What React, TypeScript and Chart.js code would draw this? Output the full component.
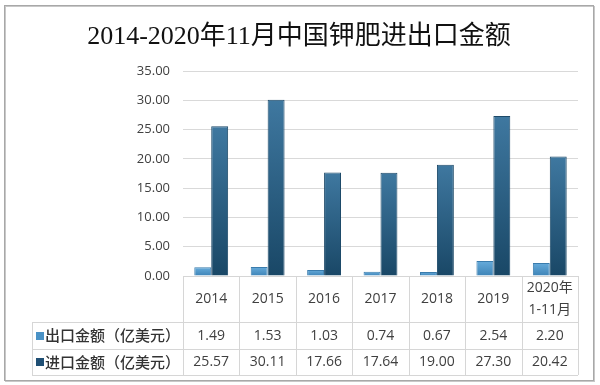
import React, { useEffect, useRef } from 'react';
import { Chart, registerables } from 'chart.js';

Chart.register(...registerables);

const TITLE = '2014-2020年11月中国钾肥进出口金额';
const CATEGORIES: string[][] = [['2014'], ['2015'], ['2016'], ['2017'], ['2018'], ['2019'], ['2020年', '1-11月']];
const SERIES_NAMES = ['出口金额（亿美元）', '进口金额（亿美元）'];
const EXPORT_VALUES = [1.49, 1.53, 1.03, 0.74, 0.67, 2.54, 2.2];
const IMPORT_VALUES = [25.57, 30.11, 17.66, 17.64, 19.0, 27.3, 20.42];
const Y_MIN = 0;
const Y_MAX = 35;
const Y_STEP = 5;

const NUM_FONT = "'Open Sans', 'Liberation Sans'";
const CJK_FONT = "'Noto Sans CJK SC', 'Open Sans', sans-serif";
const TEXT_COLOR = '#404040';
const LINE_COLOR = '#d6d6d6';

const EXPORT_TOP = '#66abdb';
const EXPORT_BOTTOM = '#3d83b6';
const IMPORT_TOP = '#3f78a0';
const IMPORT_BOTTOM = '#194766';

function barGradient(top: string, bottom: string, fallback: string) {
  return (c: any) => {
    const chart = c.chart;
    const a = chart.chartArea;
    if (!a || c.raw == null) return fallback;
    const yTop = chart.scales.y.getPixelForValue(c.raw);
    const g = chart.ctx.createLinearGradient(0, Math.min(yTop, a.bottom - 1), 0, a.bottom);
    g.addColorStop(0, top);
    g.addColorStop(1, bottom);
    return g;
  };
}

const framePlugin = {
  id: 'frame',
  beforeDraw(chart: any) {
    const ctx = chart.ctx;
    ctx.save();
    ctx.fillStyle = '#ffffff';
    ctx.fillRect(0, 0, chart.width, chart.height);
    ctx.strokeStyle = '#c8c8c8';
    ctx.lineWidth = 1;
    ctx.strokeRect(5.5, 6.5, 589, 375);
    ctx.strokeStyle = '#a8a8a8';
    ctx.strokeRect(4.5, 5.5, 589, 375);
    ctx.fillStyle = '#111111';
    ctx.font = "26px 'Liberation Serif', 'Noto Sans CJK SC', serif";
    ctx.textAlign = 'center';
    ctx.textBaseline = 'middle';
    ctx.fillText(TITLE, 299, 37);
    ctx.restore();
  },
};

const tablePlugin = {
  id: 'dataTable',
  afterDraw(chart: any) {
    const ctx = chart.ctx;
    const a = chart.chartArea;
    const xs = chart.scales.x;
    const n = CATEGORIES.length;
    const colW = (a.right - a.left) / n;
    const tableLeft = 32;
    const headerBottom = a.bottom + 46;
    const row1Bottom = headerBottom + 27;
    const row2Bottom = row1Bottom + 26;
    const px = (v: number) => Math.round(v) + 0.5;

    ctx.save();
    ctx.strokeStyle = LINE_COLOR;
    ctx.lineWidth = 1;
    ctx.beginPath();
    ctx.moveTo(a.left, px(a.bottom));
    ctx.lineTo(a.right, px(a.bottom));
    [headerBottom, row1Bottom, row2Bottom].forEach((y) => {
      ctx.moveTo(tableLeft, px(y));
      ctx.lineTo(a.right, px(y));
    });
    ctx.moveTo(px(tableLeft), headerBottom);
    ctx.lineTo(px(tableLeft), row2Bottom);
    for (let i = 0; i <= n; i++) {
      const x = px(a.left + i * colW);
      ctx.moveTo(x, a.bottom);
      ctx.lineTo(x, row2Bottom);
    }
    ctx.stroke();

    ctx.fillStyle = TEXT_COLOR;
    ctx.textAlign = 'center';
    ctx.textBaseline = 'middle';
    const headerMid = (a.bottom + headerBottom) / 2;
    CATEGORIES.forEach((lines, i) => {
      const cx = xs.getPixelForValue(i);
      const lh = 22;
      lines.forEach((t, j) => {
        const y = headerMid + (j - (lines.length - 1) / 2) * lh;
        ctx.font = `14px ${NUM_FONT}, 'Noto Sans CJK SC', sans-serif`;
        ctx.fillText(t, cx, y);
      });
    });

    const rows = [
      { name: SERIES_NAMES[0], values: EXPORT_VALUES, color: '#4a92c6', y: (headerBottom + row1Bottom) / 2 },
      { name: SERIES_NAMES[1], values: IMPORT_VALUES, color: '#1f4f74', y: (row1Bottom + row2Bottom) / 2 },
    ];
    rows.forEach((r) => {
      ctx.font = `14px ${NUM_FONT}, sans-serif`;
      ctx.textAlign = 'center';
      ctx.fillStyle = TEXT_COLOR;
      r.values.forEach((v, i) => {
        ctx.fillText(v.toFixed(2), xs.getPixelForValue(i), r.y + 0.5);
      });
      ctx.fillStyle = r.color;
      ctx.fillRect(36, Math.round(r.y - 4), 8, 8);
      ctx.fillStyle = '#333333';
      ctx.textAlign = 'left';
      ctx.font = `500 15px ${CJK_FONT}`;
      ctx.fillText(r.name, 45, r.y);
    });
    ctx.restore();
  },
};

export default function App() {
  const ref = useRef<HTMLCanvasElement | null>(null);
  useEffect(() => {
    document.body.style.margin = '0';
    const canvas = ref.current;
    if (!canvas) return;
    const chart = new Chart(canvas, {
      type: 'bar',
      data: {
        labels: CATEGORIES.map((c) => c.join(' ')),
        datasets: [
          {
            label: SERIES_NAMES[0],
            data: EXPORT_VALUES,
            backgroundColor: barGradient(EXPORT_TOP, EXPORT_BOTTOM, '#4a92c6'),
            borderColor: '#3a7cad',
            borderWidth: 1,
            categoryPercentage: 0.6,
            barPercentage: 1.0,
          },
          {
            label: SERIES_NAMES[1],
            data: IMPORT_VALUES,
            backgroundColor: barGradient(IMPORT_TOP, IMPORT_BOTTOM, '#1f5077'),
            borderColor: '#1d4a69',
            borderWidth: 1,
            categoryPercentage: 0.6,
            barPercentage: 1.0,
          },
        ],
      },
      options: {
        responsive: false,
        animation: false,
        devicePixelRatio: 1,
        layout: { padding: { left: 103, right: 22, top: 71, bottom: 109 } },
        plugins: {
          legend: { display: false },
          tooltip: { enabled: false },
          title: { display: false },
        },
        scales: {
          x: { display: false },
          y: {
            min: Y_MIN,
            max: Y_MAX,
            afterFit: (scale: any) => {
              scale.width = 80;
            },
            ticks: {
              stepSize: Y_STEP,
              padding: 13,
              color: TEXT_COLOR,
              font: { family: NUM_FONT + ', sans-serif', size: 13 },
              callback: (v: any) => Number(v).toFixed(2),
            },
            grid: { color: '#d9d9d9', drawTicks: false },
            border: { display: false },
          },
        },
      },
      plugins: [framePlugin, tablePlugin],
    });
    return () => chart.destroy();
  }, []);
  return (
    <div style={{ width: 600, height: 385 }}>
      <canvas ref={ref} width={600} height={385} />
    </div>
  );
}
